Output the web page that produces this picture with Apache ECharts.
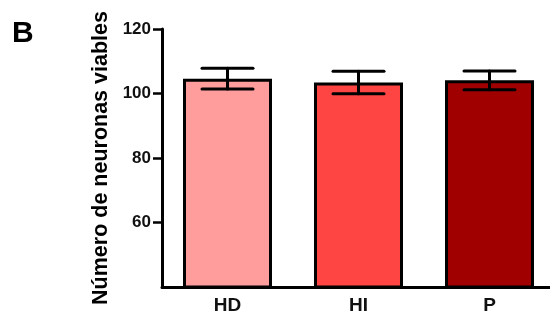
<!DOCTYPE html>
<html>
<head>
<meta charset="utf-8">
<style>
  html, body { margin: 0; padding: 0; background: #fff; }
  #chart { width: 550px; height: 320px; }
</style>
<script src="https://cdn.jsdelivr.net/npm/echarts@6/dist/echarts.min.js"></script>
</head>
<body>
<div id="chart"></div>
<script>
const categories = ['HD', 'HI', 'P'];
const means = [104.6, 103.4, 104.1];
const sems = [3.2, 3.5, 2.9];
const barColors = ['#FF9C9C', '#FF4444', '#A00000'];
const yTicks = [60, 80, 100, 120];

const FONT = 'Liberation Sans, Arial, sans-serif';
const chart = echarts.init(document.getElementById('chart'));

const errData = categories.map((c, i) => [i, means[i], sems[i]]);

chart.setOption({
  animation: false,
  backgroundColor: '#fff',
  graphic: [{
    type: 'text',
    left: 12,
    top: 19,
    style: { text: 'B', font: 'bold 30px ' + FONT, fill: '#000' }
  }],
  grid: { left: 162, width: 393, top: 29, bottom: 33, outerBoundsMode: 'none', containLabel: false },
  xAxis: {
    type: 'category',
    data: categories,
    axisLine: { lineStyle: { color: '#000', width: 3 } },
    axisTick: { alignWithLabel: true, length: 8, lineStyle: { color: '#000', width: 2.5 } },
    axisLabel: { color: '#111', fontFamily: FONT, fontWeight: 'bold', fontSize: 19, margin: 9 }
  },
  yAxis: {
    type: 'value',
    min: 40, max: 120, interval: 20,
    name: 'Número de neuronas viables',
    nameLocation: 'middle',
    nameRotate: 90,
    nameGap: 48,
    nameTextStyle: { color: '#000', fontFamily: FONT, fontWeight: 'bold', fontSize: 21.5 },
    axisLine: { show: true, lineStyle: { color: '#000', width: 3 } },
    axisTick: { show: true, length: 9, customValues: yTicks, lineStyle: { color: '#000', width: 2.5 } },
    axisLabel: { color: '#111', fontFamily: FONT, fontWeight: 'bold', fontSize: 17, margin: 11, customValues: yTicks },
    splitLine: { show: false }
  },
  series: [{
    type: 'bar',
    barWidth: 89,
    data: means.map((v, i) => ({ value: v, itemStyle: { color: barColors[i] } })),
    itemStyle: { borderColor: '#000', borderWidth: 3 },
    z: 2
  }, {
    type: 'custom',
    data: errData,
    z: 5,
    renderItem: function (params, api) {
      const i = api.value(0), m = api.value(1), s = api.value(2);
      const top = api.coord([i, m + s]);
      const bot = api.coord([i, m - s]);
      const hw = 25.5;
      const st = { stroke: '#000', lineWidth: 3, lineCap: 'round' };
      return {
        type: 'group',
        children: [
          { type: 'line', shape: { x1: top[0], y1: top[1], x2: bot[0], y2: bot[1] }, style: st },
          { type: 'line', shape: { x1: top[0] - hw, y1: top[1], x2: top[0] + hw, y2: top[1] }, style: st },
          { type: 'line', shape: { x1: bot[0] - hw, y1: bot[1], x2: bot[0] + hw, y2: bot[1] }, style: st }
        ]
      };
    }
  }]
});
</script>
</body>
</html>
